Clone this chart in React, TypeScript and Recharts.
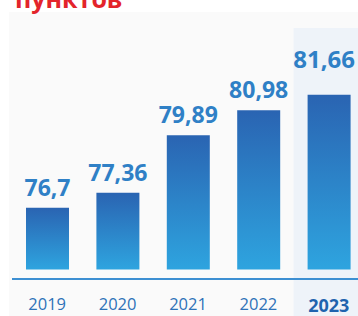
import React from 'react';
import { BarChart, Bar, XAxis, YAxis, ReferenceArea } from 'recharts';

const categories = ['2019', '2020', '2021', '2022', '2023'];
const values = [76.7, 77.36, 79.89, 80.98, 81.66];
const valueLabels = ['76,7', '77,36', '79,89', '80,98', '81,66'];
const baseValue = 74;
const highlightYear = '2023';
const titleText = 'пунктов';

const data = categories.map((year, i) => ({ year, range: [baseValue, values[i]] }));

const FONT = '"Open Sans", "DejaVu Sans", sans-serif';

const YearTick = (props: any) => {
  const { x, y, payload } = props;
  const hl = payload.value === highlightYear;
  return (
    <text
      x={x}
      y={y + (hl ? 25 : 23)}
      textAnchor="middle"
      fontFamily={FONT}
      fontSize={hl ? 18 : 16.5}
      fontWeight={hl ? 700 : 400}
      fill={hl ? '#1f63ae' : '#2e72b8'}
    >
      {payload.value}
    </text>
  );
};

const renderLabel = (props: any) => {
  const { x, y, width, index } = props;
  const hl = categories[index] === highlightYear;
  return (
    <text
      x={x + width / 2 - (hl ? 5 : 0)}
      y={y - (hl ? 27 : 12)}
      textAnchor="middle"
      fontFamily={FONT}
      fontSize={hl ? 24 : 23}
      fontWeight={700}
      fill="#2f80c6"
    >
      {valueLabels[index]}
    </text>
  );
};

export default function App() {
  return (
    <div
      style={{
        position: 'absolute',
        left: 0,
        top: 0,
        width: 358,
        height: 316,
        overflow: 'hidden',
        background: '#ffffff',
      }}
    >
      <div
        style={{
          position: 'absolute',
          left: 9,
          top: 12,
          width: 349,
          height: 304,
          background: '#fafafa',
        }}
      />
      <svg width={358} height={20} style={{ position: 'absolute', left: 0, top: 0 }}>
        <text x={15} y={8} fontFamily={FONT} fontSize={25} fontWeight={700} fill="#e3242b">
          {titleText}
        </text>
      </svg>
      <div style={{ position: 'absolute', left: 0, top: 0 }}>
        <BarChart
          width={366}
          height={316}
          data={data}
          margin={{ top: 28, right: 2, left: 12, bottom: 0 }}
          barSize={43}
        >
          <defs>
            <linearGradient id="barGrad" x1="0" y1="0" x2="0" y2="1">
              <stop offset="0%" stopColor="#2a64b2" />
              <stop offset="100%" stopColor="#2ea4df" />
            </linearGradient>
          </defs>
          <ReferenceArea
            x1={highlightYear}
            x2={highlightYear}
            y1={71.9}
            y2={84.59}
            fill="#eef3f9"
            fillOpacity={1}
            stroke="none"
            ifOverflow="visible"
          />
          <XAxis
            dataKey="year"
            height={37}
            tickLine={false}
            axisLine={{ stroke: '#3d8fd2', strokeWidth: 2 }}
            tick={<YearTick />}
            interval={0}
          />
          <YAxis hide domain={[73.58, 84.59]} />
          <Bar dataKey="range" fill="url(#barGrad)" isAnimationActive={false} label={renderLabel} />
        </BarChart>
      </div>
    </div>
  );
}
